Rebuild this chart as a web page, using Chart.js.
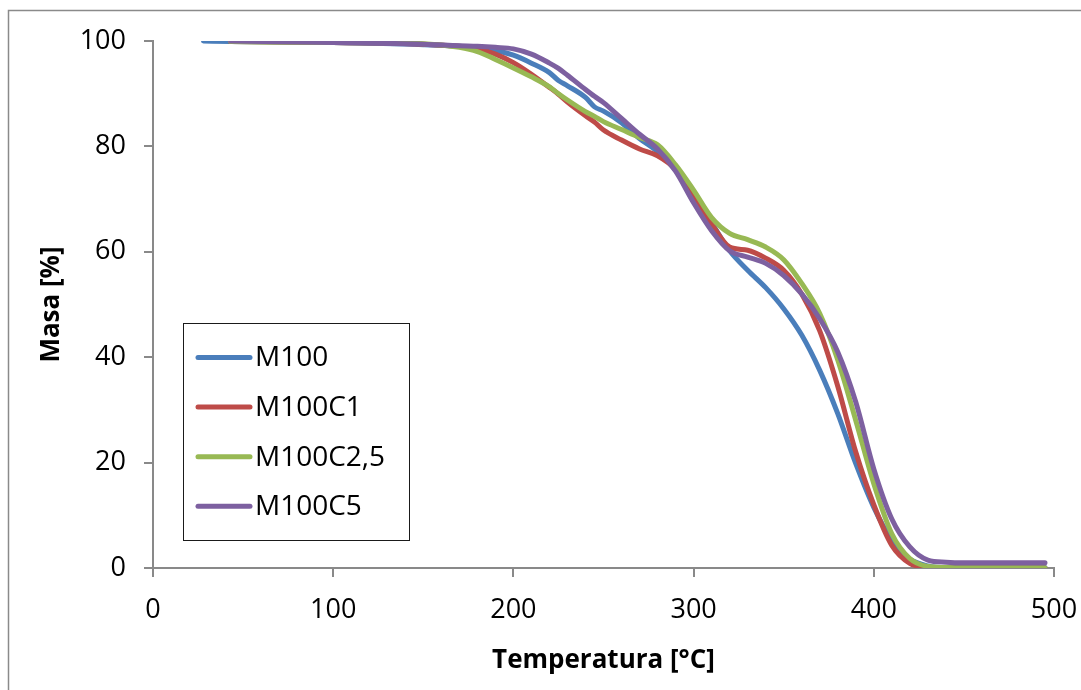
<!DOCTYPE html>
<html>
<head>
<meta charset="utf-8">
<script src="https://cdn.jsdelivr.net/npm/chart.js@4/dist/chart.umd.min.js"></script>
<style>
  html,body{margin:0;padding:0;background:#fff;}
  #wrap{width:1081px;height:690px;position:relative;}
</style>
</head>
<body>
<div id="wrap"><canvas id="tga" width="1081" height="690"></canvas></div>
<script>
// temperature [°C] shared by all series
const temps = [28, 43, 100, 150, 170, 180, 190, 200, 210, 220, 225, 230, 240, 245, 250, 260, 270, 280, 290, 300,
  310, 320, 330, 340, 350, 360, 370, 380, 390, 400, 410, 420, 430, 440, 450, 470, 495];

const m100 = [100, 99.9, 99.7, 99.3, 99.0, 98.7, 98.2, 97.3, 95.8, 94.0, 92.5, 91.5, 89.3, 87.5, 86.7, 84.5, 81.5, 79.0, 75.5, 70.6,
  65.5, 60.2, 56.5, 53.2, 49.2, 44.2, 37.5, 29.3, 19.8, 11.5, 5.3, 1.7, 0.4, 0.1, 0.1, 0.1, 0.1];
const m100c1 = [null, 99.9, 99.7, 99.4, 99.0, 98.6, 97.5, 95.9, 93.7, 91.2, 89.9, 88.4, 85.8, 84.6, 83.1, 81.2, 79.5, 78.2, 75.6, 70.4,
  65.3, 60.9, 60.3, 58.8, 56.5, 52.0, 45.0, 34.5, 22.0, 12.0, 4.3, 0.9, 0.1, 0, 0, 0, 0];
const m100c25 = [null, 99.9, 99.7, 99.5, 98.8, 98.0, 96.5, 94.9, 93.2, 91.3, 90.0, 88.8, 86.6, 85.7, 84.7, 83.2, 81.7, 80.3, 76.5, 71.7,
  66.5, 63.5, 62.3, 60.9, 58.5, 54.0, 48.3, 39.5, 28.0, 16.0, 6.5, 1.8, 0.3, 0.1, 0, 0, 0];
const m100c5 = [null, 100, 99.7, 99.4, 99.1, 99.0, 98.8, 98.5, 97.5, 95.8, 94.8, 93.5, 90.8, 89.5, 88.3, 85.3, 82.3, 79.5, 75.3, 69.3,
  64.0, 60.2, 59.0, 57.8, 55.5, 52.0, 47.3, 41.0, 31.5, 18.8, 9.3, 4.0, 1.5, 1.1, 1.0, 1.0, 1.0];

const seriesNames = ['M100', 'M100C1', 'M100C2,5', 'M100C5'];
const seriesColors = ['#4A7EBB', '#BE4B48', '#98B954', '#7D60A0'];
const seriesValues = [m100, m100c1, m100c25, m100c5];

const xTicks = [0, 100, 200, 300, 400, 500];
const yTicks = [0, 20, 40, 60, 80, 100];

const axisColor = '#898989';
const fontFam = '"Open Sans", "Liberation Sans", sans-serif';

const datasets = seriesValues.map((vals, i) => ({
  label: seriesNames[i],
  data: temps.map((t, j) => ({x: t, y: vals[j]})),
  borderColor: seriesColors[i],
  backgroundColor: seriesColors[i],
  borderWidth: 5,
  pointRadius: 0,
  cubicInterpolationMode: 'monotone',
  borderCapStyle: 'round',
  borderJoinStyle: 'round',
  spanGaps: true,
  order: 4 - i
}));

// outer frame (only top and left edge visible)
const framePlugin = {
  id: 'frame',
  beforeDraw(chart){
    const c = chart.ctx;
    c.save();
    c.fillStyle = '#fff';
    c.fillRect(0, 0, chart.width, chart.height);
    c.strokeStyle = '#8a8a8a';
    c.lineWidth = 1.5;
    c.beginPath();
    c.moveTo(8.5, chart.height);
    c.lineTo(8.5, 10.5);
    c.lineTo(chart.width, 10.5);
    c.stroke();
    c.restore();
  }
};

// boxed legend inside the plot like the original
const boxLegend = {
  id: 'boxLegend',
  afterDraw(chart){
    const c = chart.ctx;
    const x0 = 183, y0 = 323, w = 226, h = 217;
    c.save();
    c.fillStyle = '#fff';
    c.fillRect(x0, y0, w, h);
    c.strokeStyle = '#1a1a1a';
    c.lineWidth = 1;
    c.strokeRect(x0 + 0.5, y0 + 0.5, w, h);
    c.font = '28px ' + fontFam;
    c.textBaseline = 'middle';
    chart.data.datasets.forEach((ds, i) => {
      const y = 357.5 + i * 49.6;
      c.strokeStyle = ds.borderColor;
      c.lineWidth = 5;
      c.lineCap = 'round';
      c.beginPath();
      c.moveTo(198, y);
      c.lineTo(250, y);
      c.stroke();
      c.fillStyle = '#000';
      c.fillText(ds.label, 255, y + 1);
    });
    c.restore();
  }
};

new Chart(document.getElementById('tga'), {
  type: 'line',
  data: {datasets},
  options: {
    responsive: false,
    animation: false,
    layout: {padding: {top: 41, right: 27, left: 0, bottom: 0}},
    plugins: {legend: {display: false}, tooltip: {enabled: false}},
    scales: {
      x: {
        type: 'linear', min: 0, max: 500,
        afterBuildTicks: s => { s.ticks = xTicks.map(v => ({value: v})); },
        afterFit: s => { s.height = 122; s.paddingLeft = 0; s.paddingRight = 0; },
        ticks: {color: '#000', font: {family: fontFam, size: 27}, padding: 17, maxRotation: 0},
        grid: {drawOnChartArea: false, drawTicks: true, tickLength: 9, color: axisColor, lineWidth: 2},
        border: {display: true, color: axisColor, width: 2},
        title: {display: true, text: 'Temperatura [°C]', color: '#000',
          font: {family: fontFam, size: 26, weight: 'bold'}, padding: {top: 0, bottom: 14}}
      },
      y: {
        type: 'linear', min: 0, max: 100,
        afterBuildTicks: s => { s.ticks = yTicks.map(v => ({value: v})); },
        afterFit: s => { s.width = 153; s.paddingTop = 0; s.paddingBottom = 0; },
        ticks: {color: '#000', font: {family: fontFam, size: 27}, padding: 18},
        grid: {drawOnChartArea: false, drawTicks: true, tickLength: 9, color: axisColor, lineWidth: 2},
        border: {display: true, color: axisColor, width: 2},
        title: {display: true, text: 'Masa [%]', color: '#000',
          font: {family: fontFam, size: 26, weight: 'bold'}, padding: {top: 36, bottom: 0}}
      }
    }
  },
  plugins: [framePlugin, boxLegend]
});
</script>
</body>
</html>
